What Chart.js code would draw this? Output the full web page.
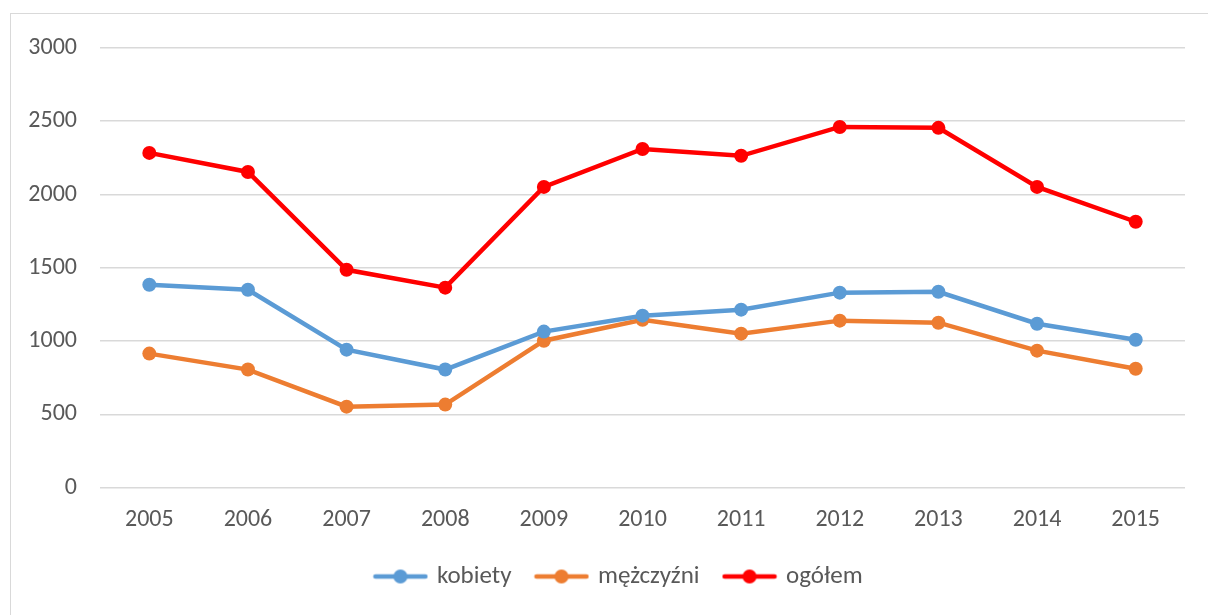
<!DOCTYPE html>
<html>
<head>
<meta charset="utf-8">
<script src="https://cdn.jsdelivr.net/npm/chart.js@4"></script>
<style>
  html, body { margin: 0; padding: 0; background: #fff; overflow: hidden; }
  .frame {
    position: absolute; left: 10px; top: 13px;
    width: 1300px; height: 700px;
    border: 1.5px solid #d9d9d9;
  }
  .wrap { position: absolute; left: 0; top: 0; width: 1208px; height: 615px; }
</style>
</head>
<body>
<div class="frame"></div>
<div class="wrap"><canvas id="lineChart" width="1208" height="615"></canvas></div>
<script>
// dane
const years = ['2005', '2006', '2007', '2008', '2009', '2010', '2011', '2012', '2013', '2014', '2015'];
const kobiety = [1384, 1350, 941, 805, 1064, 1173, 1214, 1330, 1336, 1118, 1009];
const mezczyzni = [914, 805, 552, 566, 1002, 1145, 1050, 1139, 1125, 934, 811];
const ogolem = [2284, 2154, 1486, 1364, 2052, 2311, 2264, 2461, 2455, 2052, 1814];
const yTicks = [0, 500, 1000, 1500, 2000, 2500, 3000];

Chart.defaults.font.family = 'Carlito, Lato, sans-serif';
Chart.defaults.font.size = 24;
Chart.defaults.color = '#595959';

// ikona legendy: linia z kropka
function legendIcon(color) {
  const c = document.createElement('canvas');
  c.width = 56;
  c.height = 16;
  const g = c.getContext('2d');
  g.strokeStyle = color;
  g.lineWidth = 4.5;
  g.lineCap = 'round';
  g.beginPath();
  g.moveTo(3, 8);
  g.lineTo(53, 8);
  g.stroke();
  g.fillStyle = color;
  g.beginPath();
  g.arc(28, 8, 7, 0, Math.PI * 2);
  g.fill();
  return c;
}

function series(label, data, color) {
  return {
    label: label,
    data: data,
    borderColor: color,
    backgroundColor: color,
    borderWidth: 4.5,
    pointRadius: 7,
    pointHoverRadius: 7,
    pointBorderWidth: 0,
    pointStyle: 'circle',
    tension: 0,
    legendIcon: legendIcon(color)
  };
}

// legenda wycentrowana pod calym obszarem (jak w Excelu), nie pod wykresem
const legendShift = {
  id: 'legendShift',
  afterLayout(chart) {
    if (chart.legend) {
      chart.legend.left += 27;
      chart.legend.right += 27;
    }
  }
};

const ctx = document.getElementById('lineChart').getContext('2d');

new Chart(ctx, {
  type: 'line',
  data: {
    labels: years,
    datasets: [
      series('kobiety', kobiety, '#5b9bd5'),
      series('mężczyźni', mezczyzni, '#ed7d31'),
      series('ogółem', ogolem, '#ff0000')
    ]
  },
  plugins: [legendShift],
  options: {
    responsive: false,
    animation: false,
    layout: { padding: { top: 48, right: 23, bottom: 16, left: 0 } },
    plugins: {
      tooltip: { enabled: false },
      legend: {
        position: 'bottom',
        labels: {
          usePointStyle: true,
          pointStyleWidth: 48,
          padding: 26,
          font: { size: 25 },
          generateLabels: function (chart) {
            return chart.data.datasets.map((ds, i) => ({
              text: ds.label,
              pointStyle: ds.legendIcon,
              fillStyle: ds.borderColor,
              strokeStyle: ds.borderColor,
              lineWidth: 0,
              fontColor: '#595959',
              datasetIndex: i,
              hidden: false
            }));
          }
        }
      }
    },
    scales: {
      x: {
        offset: true,
        grid: { display: false, drawTicks: false },
        border: { display: false },
        ticks: { padding: 18, maxRotation: 0 },
        afterFit: function (scale) { scale.height = 50.5; }
      },
      y: {
        min: 0,
        max: 3000,
        afterBuildTicks: function (scale) {
          scale.ticks = yTicks.map(v => ({ value: v }));
        },
        grid: { color: '#d9d9d9', lineWidth: 1.5, drawTicks: false },
        border: { display: false },
        ticks: { padding: 23, callback: v => String(v) },
        afterFit: function (scale) { scale.width = 100; }
      }
    }
  }
});
</script>
</body>
</html>
